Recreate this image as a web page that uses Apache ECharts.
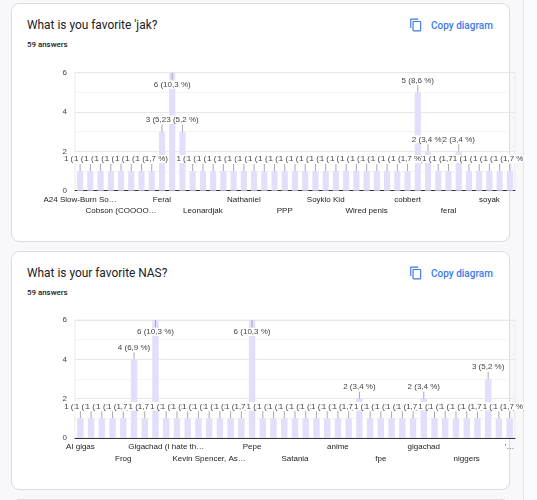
<!DOCTYPE html>
<html lang="en">
<head>
<meta charset="utf-8">
<title>Form responses</title>
<script src="https://cdn.jsdelivr.net/npm/echarts@6/dist/echarts.min.js"></script>
<style>
    body {
        margin: 0;
        width: 537px;
        height: 500px;
        background: #f8f8fb;
        overflow: hidden;
        position: relative;
        font-family: Roboto, sans-serif;
    }
    .card {
        position: absolute;
        left: 11px;
        width: 497px;
        height: 237px;
        background: #fff;
        border: 1px solid #dadce0;
        border-radius: 8px;
    }
    .title {
        position: absolute;
        left: 15px;
        top: 14px;
        font-size: 11.9px;
        color: #202124;
    }
    .count {
        position: absolute;
        left: 15px;
        top: 36px;
        font-size: 7.9px;
        font-weight: 500;
        color: #202124;
    }
    .copy {
        position: absolute;
        left: 397px;
        top: 14px;
        font-size: 10px;
        font-weight: 500;
        color: #3b7bea;
        display: flex;
        align-items: center;
    }
    .copy svg {
        width: 14px;
        height: 14px;
        margin-right: 8px;
    }
    .chart {
        position: absolute;
        left: 0;
        width: 524px;
        height: 172px;
    }
    .scroll {
        position: absolute;
        left: 523px;
        top: 0;
        width: 14px;
        height: 500px;
        background: #fbfbfd;
        border-left: 1px solid #e4e4ea;
    }
</style>
</head>
<body>
    <div class="card" style="top:3px">
        <div class="title">What is you favorite 'jak?</div>
        <div class="count">59 answers</div>
        <div class="copy"><svg viewBox="0 0 24 24"><path fill="#3b7bea" d="M16 1H4c-1.1 0-2 .9-2 2v14h2V3h12V1zm3 4H8c-1.1 0-2 .9-2 2v14c0 1.1.9 2 2 2h11c1.1 0 2-.9 2-2V7c0-1.1-.9-2-2-2zm0 16H8V7h11v14z"/></svg>Copy diagram</div>
    </div>
    <div class="card" style="top:251px">
        <div class="title">What is your favorite NAS?</div>
        <div class="count">59 answers</div>
        <div class="copy"><svg viewBox="0 0 24 24"><path fill="#3b7bea" d="M16 1H4c-1.1 0-2 .9-2 2v14h2V3h12V1zm3 4H8c-1.1 0-2 .9-2 2v14c0 1.1.9 2 2 2h11c1.1 0 2-.9 2-2V7c0-1.1-.9-2-2-2zm0 16H8V7h11v14z"/></svg>Copy diagram</div>
    </div>
    <div class="card" style="top:499px"></div>
    <div class="scroll"></div>

    <div id="id-chart-jak" class="chart" style="top:60px"></div>
    <div id="id-chart-nas" class="chart" style="top:308px"></div>

    <script>
        var log = console.log.bind(console)

        // 'jak question: every 4th name is visible on the axis, the rest are hidden
        var jakNames = [
            'A24 Slow-Burn So…', '', '', '',
            'Cobson (COOOO…', '', '', '',
            'Feral', '', '', '',
            'Leonardjak', '', '', '',
            'Nathaniel', '', '', '',
            'PPP', '', '', '',
            'Soykio Kid', '', '', '',
            'Wired penis', '', '', '',
            'cobbert', '', '', '',
            'feral', '', '', '',
            'soyak', '', '',
        ]
        var jakCounts = [
            1, 1, 1, 1, 1, 1, 1, 1,
            3, 6, 3,
            1, 1, 1, 1, 1, 1, 1, 1, 1, 1, 1, 1, 1, 1, 1, 1, 1, 1, 1, 1, 1, 1,
            5, 2, 1, 1, 2,
            1, 1, 1, 1, 1,
        ]

        // NAS question
        var nasNames = [
            'AI gigas', '', '', '',
            'Frog', '', '', '',
            'Gigachad (I hate th…', '', '', '',
            'Kevin Spencer, As…', '', '', '',
            'Pepe', '', '', '',
            'Satania', '', '', '',
            'anime', '', '', '',
            'fpe', '', '', '',
            'gigachad', '', '', '',
            'niggers', '', '', '',
            "'…",
        ]
        var nasCounts = [
            1, 1, 1, 1, 1, 4, 1, 6,
            1, 1, 1, 1, 1, 1, 1, 1,
            6,
            1, 1, 1, 1, 1, 1, 1, 1, 1,
            2, 1, 1, 1, 1, 1,
            2, 1, 1, 1, 1, 1,
            3, 1, 1,
        ]

        var yTicks = [0, 2, 4, 6]

        var chartFont = '"Liberation Sans", Arial, sans-serif'

        var percentText = (v, total) => {
            var p = (v / total * 100).toFixed(1).replace('.', ',')
            return `${v} (${p} %)`
        }

        var makeItems = (counts) => {
            var total = counts.reduce((a, b) => a + b, 0)
            var top = yTicks[yTicks.length - 1]
            var l = []
            for (var i = 0; i < counts.length; i++) {
                var v = counts[i]
                var text = percentText(v, total)
                var item = { value: v, label: {} }
                if (v >= top) {
                    // no room above the plot, label goes inside with the line on top
                    item.label.position = 'insideTop'
                    item.label.formatter = `{l|}\n{t|${text}}`
                } else {
                    item.label.formatter = `{t|${text}}\n{l|}`
                }
                l.push(item)
            }
            return l
        }

        // two stacked rows of names, like the forms chart: row 0 and row 1
        var labelRow = (row, offset, names) => {
            return {
                type: 'category',
                position: 'bottom',
                data: names,
                offset: offset,
                axisTick: { show: false },
                axisLine: { show: row == 0, lineStyle: { color: '#333', width: 1 } },
                splitLine: { show: false },
                axisLabel: {
                    interval: (index) => index % 8 == row * 4,
                    showMinLabel: true,
                    showMaxLabel: true,
                    hideOverlap: false,
                    fontSize: 8,
                    color: '#222',
                    margin: 5,
                    fontFamily: chartFont,
                },
            }
        }

        var buildOption = (names, counts, gridTop, rowGap) => {
            return {
                animation: false,
                textStyle: { fontFamily: chartFont },
                grid: {
                    left: 75,
                    top: gridTop,
                    width: 440,
                    height: 118,
                    show: true,
                    borderColor: '#ebebeb',
                    borderWidth: 1,
                    outerBoundsMode: 'none',
                },
                xAxis: [
                    labelRow(0, 0, names),
                    labelRow(1, rowGap, names),
                ],
                yAxis: {
                    type: 'value',
                    min: yTicks[0],
                    max: yTicks[yTicks.length - 1],
                    interval: yTicks[1] - yTicks[0],
                    axisLine: { show: false },
                    axisTick: { show: false },
                    axisLabel: { fontSize: 8, color: '#444', margin: 8, fontFamily: chartFont },
                    splitLine: { lineStyle: { color: '#e8e8e8' } },
                    minorTick: { show: false, splitNumber: 2 },
                    minorSplitLine: { show: true, lineStyle: { color: '#f4f4f4' } },
                },
                series: [
                    {
                        type: 'bar',
                        barWidth: '60%',
                        silent: true,
                        itemStyle: { color: '#e1dffb' },
                        label: {
                            show: true,
                            position: 'top',
                            distance: 0,
                            rich: {
                                t: {
                                    fontSize: 8,
                                    lineHeight: 10,
                                    color: '#444',
                                    backgroundColor: '#fff',
                                    fontFamily: chartFont,
                                },
                                l: {
                                    width: 1,
                                    height: 7,
                                    backgroundColor: '#a8a8a8',
                                    align: 'center',
                                },
                            },
                        },
                        data: makeItems(counts),
                    },
                ],
            }
        }

        var showCharts = () => {
            var jakChart = echarts.init(document.querySelector('#id-chart-jak'))
            jakChart.setOption(buildOption(jakNames, jakCounts, 12.7, 11))
            var nasChart = echarts.init(document.querySelector('#id-chart-nas'))
            nasChart.setOption(buildOption(nasNames, nasCounts, 12, 11.5))
        }

        var __main = () => {
            showCharts()
        }

        __main()
    </script>
</body>
</html>
